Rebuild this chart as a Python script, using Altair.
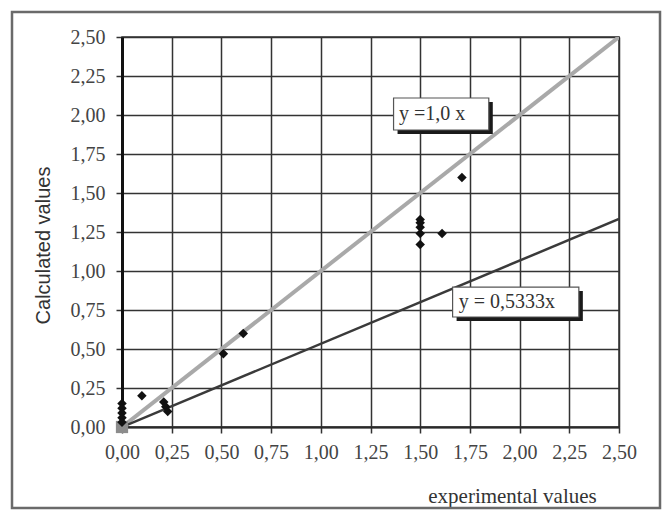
import altair as alt
import pandas as pd

# ---- data ----
exp_values = [0.00, 0.00, 0.00, 0.00, 0.00, 0.10, 0.21, 0.22, 0.23, 0.51, 0.61,
              1.50, 1.50, 1.50, 1.50, 1.50, 1.61, 1.71]
calc_values = [0.15, 0.12, 0.09, 0.06, 0.03, 0.20, 0.16, 0.13, 0.10, 0.47, 0.60,
               1.33, 1.31, 1.28, 1.24, 1.17, 1.24, 1.60]
origin_x = [0.0]
origin_y = [0.0]
line_names = ["y =1,0 x", "y = 0,5333x"]
line_slopes = [1.0, 0.5333]
line_x = [0.0, 2.5]
tick_values = [0.0, 0.25, 0.5, 0.75, 1.0, 1.25, 1.5, 1.75, 2.0, 2.25, 2.5]

# annotation box placement (data units)
box_x1 = [1.366, 1.663]
box_x2 = [1.845, 2.298]
box_y1 = [2.109, 0.897]
box_y2 = [1.904, 0.705]
text_x = [1.393, 1.694]
text_y = [2.006, 0.801]

W, H = 497, 390
SERIF = "Liberation Serif"
SANS = "Liberation Sans"

pts = pd.DataFrame({"x": exp_values, "y": calc_values})
org = pd.DataFrame({"x": origin_x, "y": origin_y})
lines = pd.DataFrame(
    [{"name": n, "x": xv, "y": s * xv, "order": i} for n, s in zip(line_names, line_slopes) for i, xv in enumerate(line_x)]
)
boxes = pd.DataFrame({"label": line_names, "x1": box_x1, "x2": box_x2, "y1": box_y1, "y2": box_y2,
                      "tx": text_x, "ty": text_y})

label_expr = "replace(format(datum.value, '.2f'), '.', ',')"
xscale = alt.Scale(domain=[0, 2.5], nice=False, zero=False)
yscale = alt.Scale(domain=[0, 2.5], nice=False, zero=False)

xaxis = alt.Axis(values=tick_values, labelExpr=label_expr, title="experimental values",
                 titleX=390, titleY=69, titleAlign="center", titleBaseline="middle",
                 titleFont=SERIF, titleFontSize=21, titleFontWeight="normal", titleColor="#333333",
                 labelFont=SERIF, labelFontSize=20, labelColor="#444444", labelPadding=9,
                 tickSize=6, tickColor="#333333", tickWidth=1.5,
                 domainColor="#2a2a2a", domainWidth=2,
                 grid=True, gridColor="#333333", gridWidth=1.5, gridOpacity=1,
                 labelFlush=False, labelOverlap=False, tickCount=11)
yaxis = alt.Axis(values=tick_values, labelExpr=label_expr, title="Calculated values",
                 titleX=-79, titleY=208, titleAngle=270, titleAlign="center", titleBaseline="middle",
                 titleFont=SANS, titleFontSize=20, titleFontWeight="normal", titleColor="#333333",
                 labelFont=SERIF, labelFontSize=20, labelColor="#444444", labelPadding=11,
                 tickSize=6, tickColor="#333333", tickWidth=1.5,
                 domainColor="#111111", domainWidth=3,
                 grid=True, gridColor="#333333", gridWidth=1.5, gridOpacity=1,
                 labelFlush=False, labelOverlap=False, tickCount=11)

frame = alt.Chart(pd.DataFrame({"a": [0]})).mark_rect(
    fill=None, stroke="#6a6a6a", strokeWidth=2.5
).encode(x=alt.value(-110), x2=alt.value(538), y=alt.value(-25), y2=alt.value(471))


def X(f):
    return alt.X(f, type="quantitative", scale=xscale, axis=xaxis)


def Y(f):
    return alt.Y(f, type="quantitative", scale=yscale, axis=yaxis)


line_layer = alt.Chart(lines).mark_line(clip=True).encode(
    x=X("x"),
    y=Y("y"),
    order="order:Q",
    detail="name:N",
    color=alt.Color("name:N", scale=alt.Scale(domain=line_names, range=["#a9a9a9", "#3a3a3a"]), legend=None),
    strokeWidth=alt.StrokeWidth("name:N", scale=alt.Scale(domain=line_names, range=[4, 2.5]), legend=None),
)

origin_layer = alt.Chart(org).mark_point(shape="square", filled=True, size=150, color="#8c8c8c", opacity=1).encode(
    x=X("x"), y=Y("y")
)

pts_layer = alt.Chart(pts).mark_point(shape="diamond", filled=True, size=90, color="#111111", opacity=1).encode(
    x=X("x"), y=Y("y")
)

shadow = alt.Chart(boxes).mark_rect(fill="#1a1a1a", xOffset=4, x2Offset=4, yOffset=4, y2Offset=4).encode(
    x=X("x1"), x2="x2:Q", y=Y("y1"), y2="y2:Q"
)
box = alt.Chart(boxes).mark_rect(fill="white", stroke="#555555", strokeWidth=1.2).encode(
    x=X("x1"), x2="x2:Q", y=Y("y1"), y2="y2:Q"
)
txt = alt.Chart(boxes).mark_text(align="left", baseline="middle", font=SERIF, fontSize=20, color="#333333").encode(
    x=X("tx"), y=Y("ty"), text="label:N"
)

chart = alt.layer(frame, line_layer, origin_layer, pts_layer, shadow, box, txt).properties(
    width=W, height=H,
    autosize=alt.AutoSizeParams(type="none"),
    padding={"left": 122, "top": 37, "right": 47, "bottom": 88},
    background="white",
).configure_view(stroke="#333333", strokeWidth=1.5)

chart.save("out.html", embed_options={"renderer": "svg", "actions": False})
